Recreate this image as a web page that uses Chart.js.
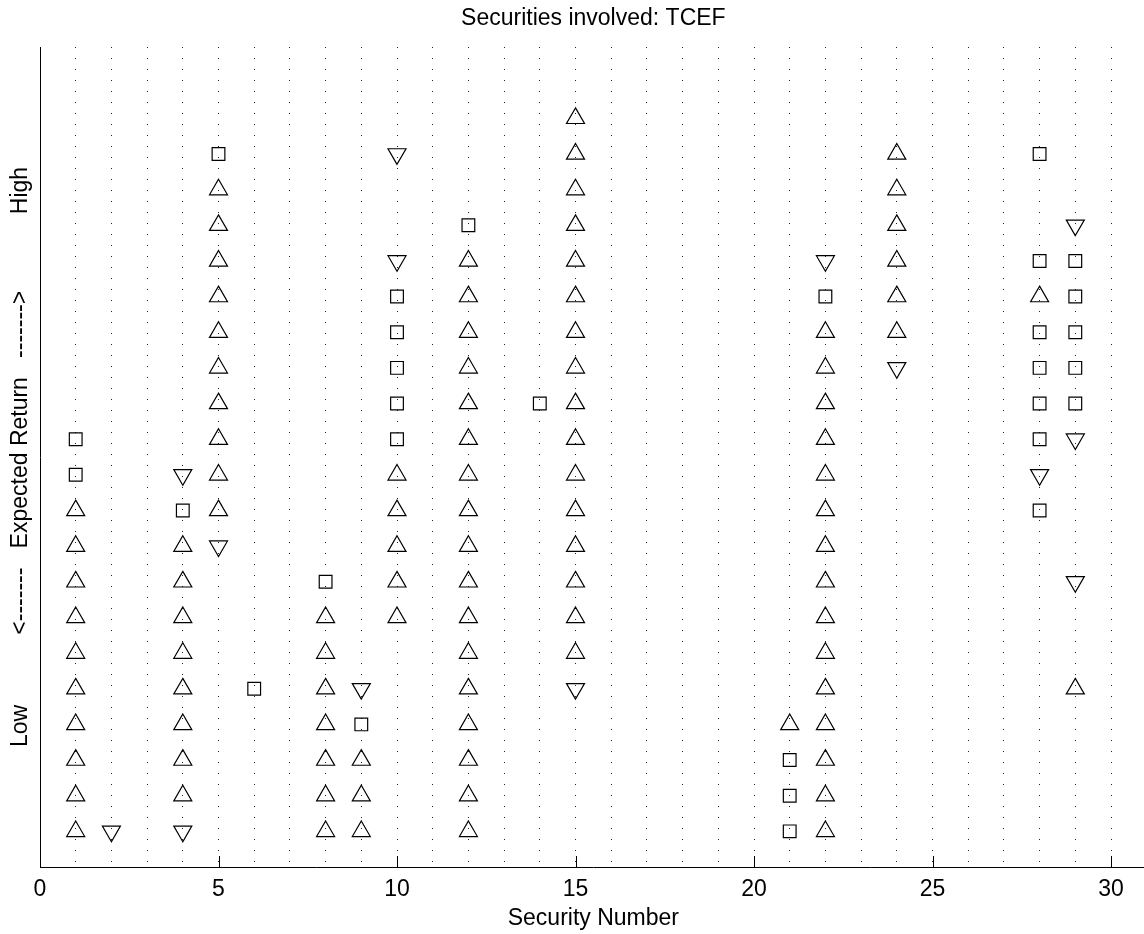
<!DOCTYPE html>
<html>
<head>
<meta charset="utf-8">
<script src="https://cdn.jsdelivr.net/npm/chart.js@4.4.0/dist/chart.umd.min.js"></script>
<style>
  html, body { margin: 0; padding: 0; background: #fff; overflow: hidden; }
  #wrap { width: 1160px; height: 934px; }
</style>
</head>
<body>
<div id="wrap"><canvas id="myChart"></canvas></div>
<script>
// security numbers that have at least one marker
const securities = [1, 2, 4, 5, 6, 8, 9, 10, 12, 14, 15, 21, 22, 24, 28, 29];

// return levels (rows) for each security, one list per marker type
const upLevels = [
  [1, 2, 3, 4, 5, 6, 7, 8, 9, 10], [], [2, 3, 4, 5, 6, 7, 8, 9],
  [10, 11, 12, 13, 14, 15, 16, 17, 18, 19], [], [1, 2, 3, 4, 5, 6, 7], [1, 2, 3],
  [7, 8, 9, 10, 11], [1, 2, 3, 4, 5, 6, 7, 8, 9, 10, 11, 12, 13, 14, 15, 16, 17], [],
  [6, 7, 8, 9, 10, 11, 12, 13, 14, 15, 16, 17, 18, 19, 20, 21], [4],
  [1, 2, 3, 4, 5, 6, 7, 8, 9, 10, 11, 12, 13, 14, 15], [15, 16, 17, 18, 19, 20], [16], [5]
];
const squareLevels = [
  [11, 12], [], [10], [20], [5], [8], [4], [12, 13, 14, 15, 16], [18], [13], [],
  [1, 2, 3], [16], [], [10, 12, 13, 14, 15, 17, 20], [13, 14, 15, 16, 17]
];
const downLevels = [
  [], [1], [1, 11], [9], [], [], [5], [17, 20], [], [], [5], [], [17], [14], [11], [8, 12, 18]
];

const tickValues = [0, 5, 10, 15, 20, 25, 30];
const titleText = 'Securities involved: TCEF';
const xLabel = 'Security Number';
const yLabel = 'Low           <-------   Expected Return   ------->            High';

function toPoints(levels) {
  const pts = [];
  securities.forEach((s, i) => {
    levels[i].forEach(lv => pts.push({ x: s, y: lv }));
  });
  return pts;
}

const FONT = '"Liberation Sans", Arial, Helvetica, sans-serif';

// inward tick marks on the x axis, like the original
const innerTicks = {
  id: 'innerTicks',
  afterDraw(chart) {
    const ctx = chart.ctx;
    const xs = chart.scales.x;
    const bottom = chart.chartArea.bottom;
    ctx.save();
    ctx.strokeStyle = '#000';
    ctx.lineWidth = 1;
    tickValues.forEach(v => {
      const px = Math.round(xs.getPixelForValue(v)) + 0.5;
      ctx.beginPath();
      ctx.moveTo(px, bottom);
      ctx.lineTo(px, bottom - 11);
      ctx.stroke();
    });
    ctx.restore();
  }
};

const markerBase = {
  showLine: false,
  borderColor: '#000',
  backgroundColor: 'rgba(0,0,0,0)',
  pointBorderWidth: 1.2,
  pointHoverRadius: 0
};

const ctx = document.getElementById('myChart').getContext('2d');
new Chart(ctx, {
  type: 'scatter',
  data: {
    datasets: [
      Object.assign({ label: 'up', data: toPoints(upLevels), pointStyle: 'triangle', pointRadius: 10.4 }, markerBase),
      Object.assign({ label: 'square', data: toPoints(squareLevels), pointStyle: 'rect', pointRadius: 9 }, markerBase),
      Object.assign({ label: 'down', data: toPoints(downLevels), pointStyle: 'triangle', pointRotation: 180, pointRadius: 10.4 }, markerBase)
    ]
  },
  options: {
    responsive: true,
    maintainAspectRatio: false,
    animation: false,
    layout: { padding: { left: 0, right: 13.3, top: 0, bottom: 0 } },
    plugins: {
      legend: { display: false },
      tooltip: { enabled: false },
      title: { display: false }
    },
    scales: {
      x: {
        type: 'linear',
        position: 'bottom',
        min: 0,
        max: 31,
        afterFit: s => { s.height = 67; },
        ticks: {
          stepSize: 1,
          autoSkip: false,
          maxRotation: 0,
          padding: 9,
          color: '#000',
          font: { family: FONT, size: 23 },
          callback: v => (v % 5 === 0 && v <= 30) ? String(v) : ''
        },
        grid: {
          drawTicks: false,
          color: c => (c.tick && c.tick.value === 0) ? 'rgba(0,0,0,0)' : '#222',
          lineWidth: 1
        },
        border: { display: true, color: '#000', width: 1, dash: [1, 10] },
        title: {
          display: true,
          text: xLabel,
          color: '#000',
          font: { family: FONT, size: 23 },
          padding: { top: 2, bottom: 2 }
        }
      },
      top: {
        type: 'linear',
        position: 'top',
        min: 0,
        max: 31,
        afterFit: s => { s.height = 47; },
        ticks: { display: false },
        grid: { display: false, drawTicks: false },
        border: { display: false },
        title: {
          display: true,
          text: titleText,
          color: '#000',
          font: { family: FONT, size: 23 },
          padding: { top: 5, bottom: 0 }
        }
      },
      y: {
        type: 'linear',
        min: 0,
        max: 23,
        afterFit: s => { s.width = 40; },
        ticks: { display: false },
        grid: { display: false, drawTicks: false },
        border: { display: true, color: '#000', width: 1 },
        title: {
          display: true,
          text: yLabel,
          color: '#000',
          font: { family: FONT, size: 23 },
          padding: { top: 7, bottom: 0 }
        }
      }
    }
  },
  plugins: [innerTicks]
});
</script>
</body>
</html>
